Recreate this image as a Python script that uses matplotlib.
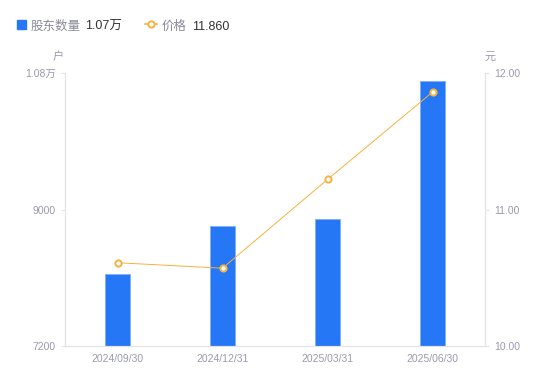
import matplotlib
matplotlib.use("Agg")
import matplotlib.pyplot as plt
import numpy as np

plt.rcParams['font.family'] = ['Liberation Sans', 'Noto Sans CJK SC', 'DejaVu Sans']

dates = ['2024/09/30', '2024/12/31', '2025/03/31', '2025/06/30']
holders = [8150, 8780, 8880, 10700]
price = [10.61, 10.57, 11.22, 11.86]

left_ticks = [7200, 9000, 10800]
left_labels = ['7200', '9000', '1.08万']
right_ticks = [10.0, 11.0, 12.0]
right_labels = ['10.00', '11.00', '12.00']

blue = '#2577F6'
orange = '#F6B23E'
gray_txt = '#9A9AAE'
axis_col = '#E3E3E8'

fig = plt.figure(figsize=(5.5, 3.81), dpi=100)
ax = fig.add_axes([65/550, 1-346/381, 420/550, 273/381])
x = np.arange(len(dates))

ax.bar(x, holders, 0.24, color=blue, edgecolor='#7FAEF9', linewidth=0.6, zorder=2)
ax.set_xlim(-0.5, 3.5)
ax.set_ylim(7200, 10800)
ax.set_yticks(left_ticks)
ax.set_yticklabels(left_labels)
ax.set_xticks(x)
ax.set_xticklabels(dates)

ax2 = ax.twinx()
ax2.plot(x, price, color=orange, linewidth=0.7, marker='o', markersize=4.5,
         markerfacecolor='white', markeredgecolor=orange, markeredgewidth=1.4, zorder=3)
ax2.set_ylim(10, 12)
ax2.set_yticks(right_ticks)
ax2.set_yticklabels(right_labels)

for a in (ax, ax2):
    for s in a.spines.values():
        s.set_color(axis_col)
        s.set_linewidth(0.8)
    a.spines['top'].set_visible(False)
    a.tick_params(colors=axis_col, labelcolor=gray_txt, labelsize=7.5, length=3, width=0.8)
ax.tick_params(axis='x', length=0, pad=6)

fig.text(58/550, 1-57/381, '户', color=gray_txt, fontsize=8, ha='center', va='center')
fig.text(490/550, 1-57/381, '元', color=gray_txt, fontsize=8, ha='center', va='center')

# legend
ly = 1 - 29.5/381
fig.patches.append(plt.Rectangle((17/550, 1-29/381), 9/550, 9/381, transform=fig.transFigure,
                                 color=blue, figure=fig))
fig.text(31/550, ly, '股东数量', color='#8A8A9A', fontsize=9, va='baseline')
fig.text(85/550, ly, '1.07万', color='#333333', fontsize=9, va='baseline')
fig.lines.append(plt.Line2D([145/550, 157/550], [1-24/381, 1-24/381], transform=fig.transFigure,
                            color=orange, linewidth=1.2))
fig.lines.append(plt.Line2D([151/550], [1-24/381], transform=fig.transFigure, color=orange,
                            marker='o', markersize=4.5, markerfacecolor='white',
                            markeredgewidth=1.4, linestyle='none'))
fig.text(162/550, ly, '价格', color='#8A8A9A', fontsize=9, va='baseline')
fig.text(192/550, ly, '11.860', color='#333333', fontsize=9, va='baseline')

fig.savefig('out.png', dpi=100)
